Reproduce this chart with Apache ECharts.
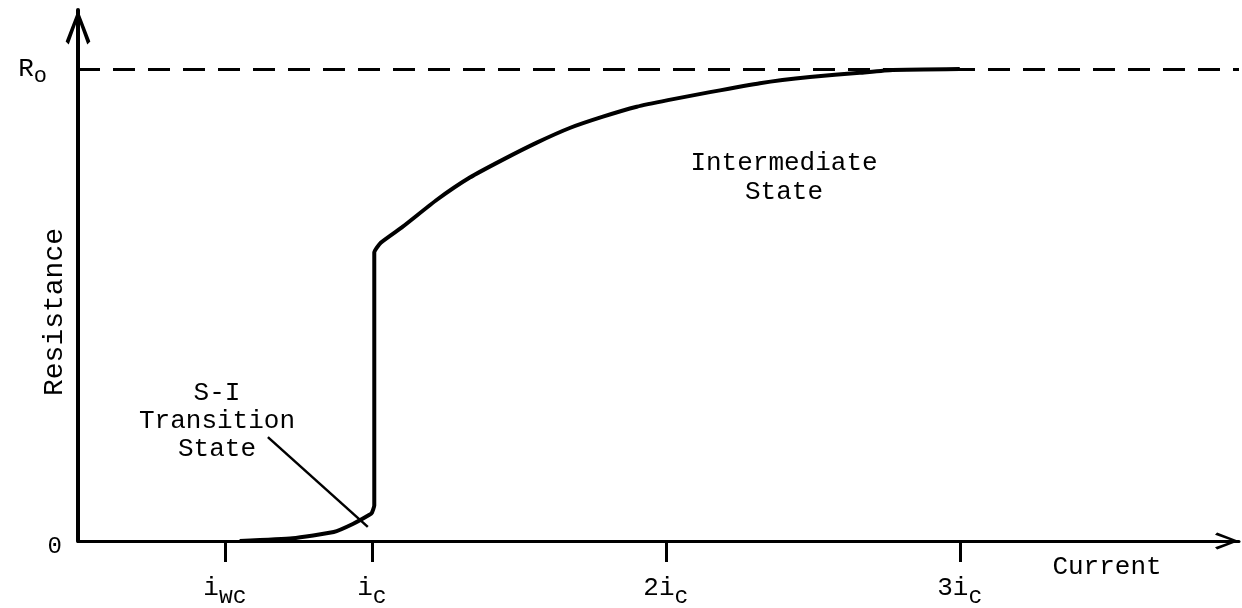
<!DOCTYPE html>
<html>
<head>
<meta charset="utf-8">
<script src="https://cdn.jsdelivr.net/npm/echarts@6/dist/echarts.min.js"></script>
<style>
  html, body { margin: 0; padding: 0; background: #fff; }
  #chart { width: 1242px; height: 608px; }
</style>
</head>
<body>
<div id="chart"></div>
<script>
// Resistance vs. current for a superconducting wire (in units of i_c and R_o)
const currentValues = [0.55, 0.73, 0.87, 0.935, 0.99, 1.0, 1.008, 1.008, 1.03, 1.105, 1.221, 1.333, 1.446, 1.561, 1.673, 1.786, 1.901, 2.007, 2.15, 2.32, 2.49, 2.66, 2.772, 3.0];
const resistanceValues = [0, 0.006, 0.019, 0.036, 0.055, 0.06, 0.075, 0.611, 0.632, 0.666, 0.723, 0.770, 0.808, 0.844, 0.875, 0.899, 0.920, 0.934, 0.951, 0.970, 0.983, 0.992, 0.998, 1.0];

// Current axis ticks: value and label (main symbol + subscript)
const tickValues = [0.5, 1, 2, 3];
const tickMain = ['i', 'i', '2i', '3i'];
const tickSub = ['wc', 'c', 'c', 'c'];

// Resistance axis marks
const resistanceTicks = [0, 1];
const normalResistance = 1;

// Pointer from the "S-I Transition State" note to the curve foot, [current, resistance]
const pointerFrom = [0.646, 0.22];
const pointerTo = [0.986, 0.03];

const FONT = '"Liberation Mono", "Courier New", monospace';
const INK = '#000';

const curve = currentValues.map((x, i) => [x, resistanceValues[i]]);

const chart = echarts.init(document.getElementById('chart'), null, { renderer: 'canvas' });

// open arrow head used at the end of both axes
const chevron = 'path://M12,0 L24,31 L21,34 L12,9 L3,34 L0,31 Z';

chart.setOption({
  backgroundColor: '#fff',
  animation: false,
  grid: { left: 78, right: 3, top: 10, bottom: 66, containLabel: false },
  xAxis: {
    type: 'value',
    min: 0,
    max: 3.95,
    splitLine: { show: false },
    axisLine: {
      show: true,
      onZero: false,
      lineStyle: { color: INK, width: 3 },
      symbol: ['none', chevron],
      symbolSize: [24, 24],
      symbolOffset: [0, -12]
    },
    axisTick: {
      show: true,
      customValues: tickValues,
      length: 21,
      lineStyle: { color: INK, width: 3 }
    },
    axisLabel: {
      show: true,
      customValues: tickValues,
      margin: 28,
      formatter: function (v) {
        const k = tickValues.indexOf(v);
        return k < 0 ? '' : '{m|' + tickMain[k] + '}{s|' + tickSub[k] + '}';
      },
      rich: {
        m: { fontFamily: FONT, fontSize: 26, color: INK },
        s: { fontFamily: FONT, fontSize: 23, color: INK, padding: [16, 0, 0, 0] }
      }
    }
  },
  yAxis: {
    type: 'value',
    min: 0,
    max: 1.125,
    splitLine: { show: false },
    axisLine: {
      show: true,
      onZero: false,
      lineStyle: { color: INK, width: 4 },
      symbol: ['none', chevron],
      symbolSize: [25, 35],
      symbolOffset: [0, -17]
    },
    axisTick: { show: false },
    axisLabel: {
      show: true,
      customValues: resistanceTicks,
      margin: 16,
      formatter: function (v) {
        return v === 0 ? '{z|0}' : '{r|R}{o|o}';
      },
      rich: {
        z: { fontFamily: FONT, fontSize: 24, color: INK, padding: [12, 0, 0, 0] },
        r: { fontFamily: FONT, fontSize: 26, color: INK },
        o: { fontFamily: FONT, fontSize: 22, color: INK, padding: [14, 15, 0, 0] }
      }
    }
  },
  series: [
    {
      type: 'line',
      data: curve,
      showSymbol: false,
      smooth: 0.15,
      lineStyle: { color: INK, width: 4 },
      z: 3,
      markLine: {
        silent: true,
        symbol: ['none', 'none'],
        label: { show: false },
        data: [
          {
            yAxis: normalResistance,
            lineStyle: { color: INK, width: 3, type: [22, 13] }
          },
          [
            { coord: pointerFrom, lineStyle: { color: INK, width: 2.5, type: 'solid' } },
            { coord: pointerTo }
          ]
        ]
      }
    }
  ],
  graphic: [
    {
      type: 'text',
      x: 55, y: 312,
      rotation: Math.PI / 2,
      style: {
        text: 'Resistance',
        font: '28px ' + FONT,
        fill: INK,
        align: 'center',
        verticalAlign: 'middle',
        letterSpacing: 3
      }
    },
    {
      type: 'text',
      x: 1107, y: 567,
      style: {
        text: 'Current',
        font: '26px ' + FONT,
        fill: INK,
        align: 'center',
        verticalAlign: 'middle'
      }
    },
    {
      type: 'text',
      x: 784, y: 178,
      style: {
        text: 'Intermediate\nState',
        font: '26px ' + FONT,
        lineHeight: 29,
        fill: INK,
        align: 'center',
        verticalAlign: 'middle'
      }
    },
    {
      type: 'text',
      x: 217, y: 421,
      style: {
        text: 'S-I\nTransition\nState',
        font: '26px ' + FONT,
        lineHeight: 28,
        fill: INK,
        align: 'center',
        verticalAlign: 'middle'
      }
    }
  ]
});
</script>
</body>
</html>
